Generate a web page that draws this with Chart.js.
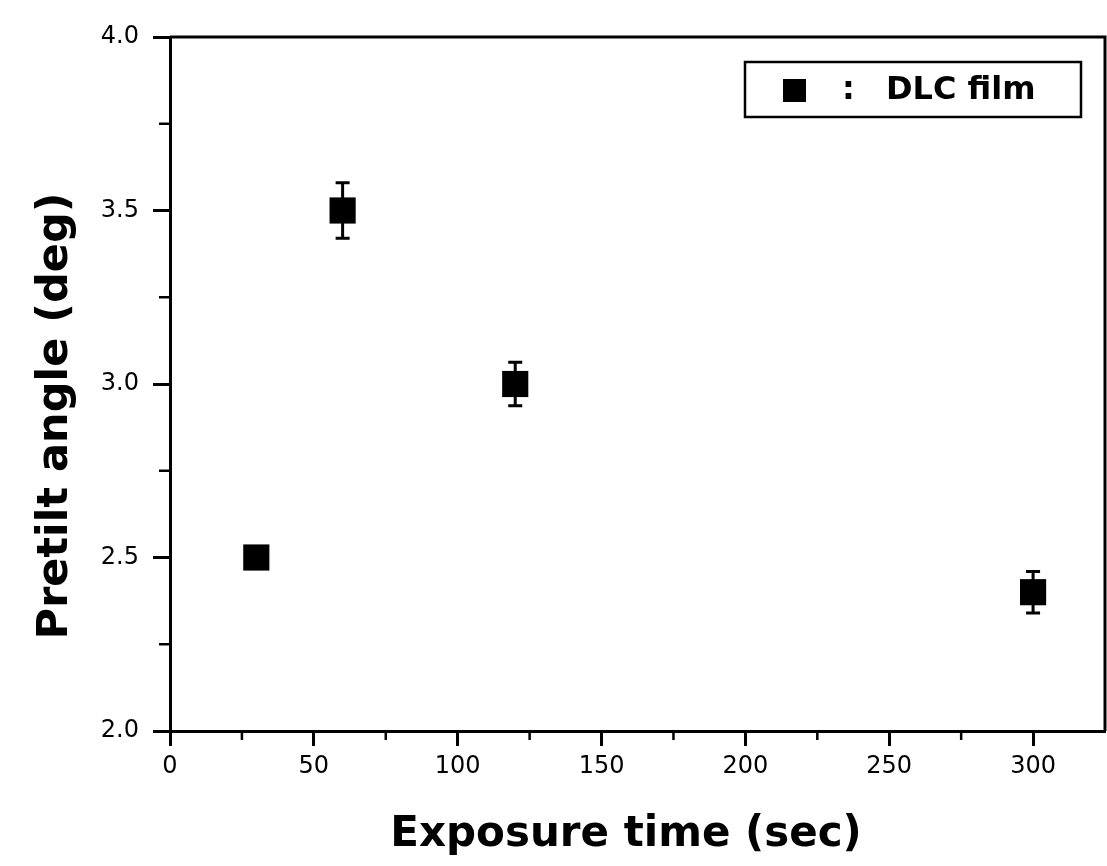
<!DOCTYPE html>
<html>
<head>
<meta charset="utf-8">
<script src="https://cdn.jsdelivr.net/npm/chart.js@4/dist/chart.umd.min.js"></script>
<style>
    html, body { margin: 0; padding: 0; background: #fff; overflow: hidden; }
    canvas { display: block; }
</style>
</head>
<body>
<canvas id="pretiltChart" width="1107" height="866"></canvas>
<script>
/* data */
const exposureTimes = [30, 60, 120, 300];
const pretiltAngles = [2.5, 3.5, 3.0, 2.4];
const pretiltErrors = [0.02, 0.08, 0.063, 0.06];

const xTickValues = [0, 50, 100, 150, 200, 250, 300];
const yTickValues = [2.0, 2.5, 3.0, 3.5, 4.0];
const xMinorValues = [25, 75, 125, 175, 225, 275];
const yMinorValues = [2.25, 2.75, 3.25, 3.75];

const xTitle = 'Exposure time (sec)';
const yTitle = 'Pretilt angle (deg)';
const legendLabel = 'DLC film';

const FONT = '"DejaVu Sans", "Liberation Sans", Arial, sans-serif';

/**
 * Error bars, minor ticks, top/right frame, axis titles and the
 * boxed legend inside the plot area.
 */
const figureExtras = {
    id: 'figureExtras',
    beforeDatasetsDraw(chart) {
        const { ctx, scales: { x, y } } = chart;
        ctx.save();
        ctx.strokeStyle = '#000';
        ctx.lineWidth = 3;
        exposureTimes.forEach((t, i) => {
            const px = x.getPixelForValue(t);
            const top = y.getPixelForValue(pretiltAngles[i] + pretiltErrors[i]);
            const bottom = y.getPixelForValue(pretiltAngles[i] - pretiltErrors[i]);
            ctx.beginPath();
            ctx.moveTo(px, top);
            ctx.lineTo(px, bottom);
            ctx.moveTo(px - 7, top);
            ctx.lineTo(px + 7, top);
            ctx.moveTo(px - 7, bottom);
            ctx.lineTo(px + 7, bottom);
            ctx.stroke();
        });
        ctx.restore();
    },
    afterDraw(chart) {
        const { ctx, chartArea: area, scales: { x, y } } = chart;
        ctx.save();
        ctx.strokeStyle = '#000';
        ctx.fillStyle = '#000';

        // top and right frame lines
        ctx.lineWidth = 3;
        ctx.beginPath();
        ctx.moveTo(area.left, area.top);
        ctx.lineTo(area.right, area.top);
        ctx.lineTo(area.right, area.bottom);
        ctx.stroke();

        // minor ticks, pointing out
        ctx.lineWidth = 2.5;
        ctx.beginPath();
        xMinorValues.forEach((v) => {
            const px = x.getPixelForValue(v);
            ctx.moveTo(px, area.bottom);
            ctx.lineTo(px, area.bottom + 9);
        });
        yMinorValues.forEach((v) => {
            const py = y.getPixelForValue(v);
            ctx.moveTo(area.left, py);
            ctx.lineTo(area.left - 11, py);
        });
        ctx.stroke();

        // axis titles
        ctx.font = `bold 42px ${FONT}`;
        ctx.textAlign = 'center';
        ctx.textBaseline = 'alphabetic';
        ctx.fillText(xTitle, 626, 846);

        ctx.translate(67, 416);
        ctx.rotate(-Math.PI / 2);
        ctx.font = `bold 43px ${FONT}`;
        ctx.fillText(yTitle, 0, 0);
        ctx.setTransform(1, 0, 0, 1, 0, 0);

        // legend box
        const boxRight = area.right - 24;
        const boxLeft = boxRight - 336;
        const boxTop = area.top + 25;
        ctx.lineWidth = 2.5;
        ctx.strokeRect(boxLeft, boxTop, 336, 55);
        ctx.fillRect(boxLeft + 38, boxTop + 17, 23, 23);
        ctx.font = `bold 32px ${FONT}`;
        ctx.textAlign = 'left';
        ctx.textBaseline = 'middle';
        ctx.fillText(':', boxLeft + 97, boxTop + 29);
        ctx.fillText(legendLabel, boxLeft + 141, boxTop + 29);

        ctx.restore();
    }
};

function drawPretiltChart(canvasId) {
    const canvas = document.getElementById(canvasId);
    if (!canvas) return;

    new Chart(canvas.getContext('2d'), {
        type: 'scatter',
        data: {
            datasets: [{
                label: legendLabel,
                data: exposureTimes.map((t, i) => ({ x: t, y: pretiltAngles[i] })),
                pointStyle: 'rect',
                pointRadius: 18.5,
                pointHoverRadius: 18.5,
                backgroundColor: '#000',
                borderColor: '#000',
                borderWidth: 0,
                showLine: false
            }]
        },
        options: {
            responsive: false,
            animation: false,
            layout: { autoPadding: false, padding: { top: 37, right: 2, left: 0, bottom: 0 } },
            plugins: {
                legend: { display: false },
                tooltip: { enabled: false }
            },
            scales: {
                x: {
                    type: 'linear',
                    min: 0,
                    max: 325,
                    afterBuildTicks: (scale) => { scale.ticks = xTickValues.map((v) => ({ value: v })); },
                    afterFit: (scale) => {
                        scale.height = 135;
                        scale.paddingLeft = 0;
                        scale.paddingRight = 0;
                    },
                    border: { display: true, color: '#000', width: 3 },
                    grid: { drawOnChartArea: false, drawTicks: true, tickLength: 15, tickWidth: 3, tickColor: '#000' },
                    ticks: {
                        color: '#000',
                        padding: 6,
                        maxRotation: 0,
                        font: { family: FONT, size: 24 },
                        callback: (v) => String(v)
                    },
                    title: { display: false }
                },
                y: {
                    type: 'linear',
                    min: 2.0,
                    max: 4.0,
                    afterBuildTicks: (scale) => { scale.ticks = yTickValues.map((v) => ({ value: v })); },
                    afterFit: (scale) => { scale.width = 170; },
                    border: { display: true, color: '#000', width: 3 },
                    grid: { drawOnChartArea: false, drawTicks: true, tickLength: 17, tickWidth: 3, tickColor: '#000' },
                    ticks: {
                        color: '#000',
                        padding: 14,
                        font: { family: FONT, size: 24 },
                        callback: (v) => v.toFixed(1)
                    },
                    title: { display: false }
                }
            }
        },
        plugins: [figureExtras]
    });
}

drawPretiltChart('pretiltChart');
</script>
</body>
</html>
